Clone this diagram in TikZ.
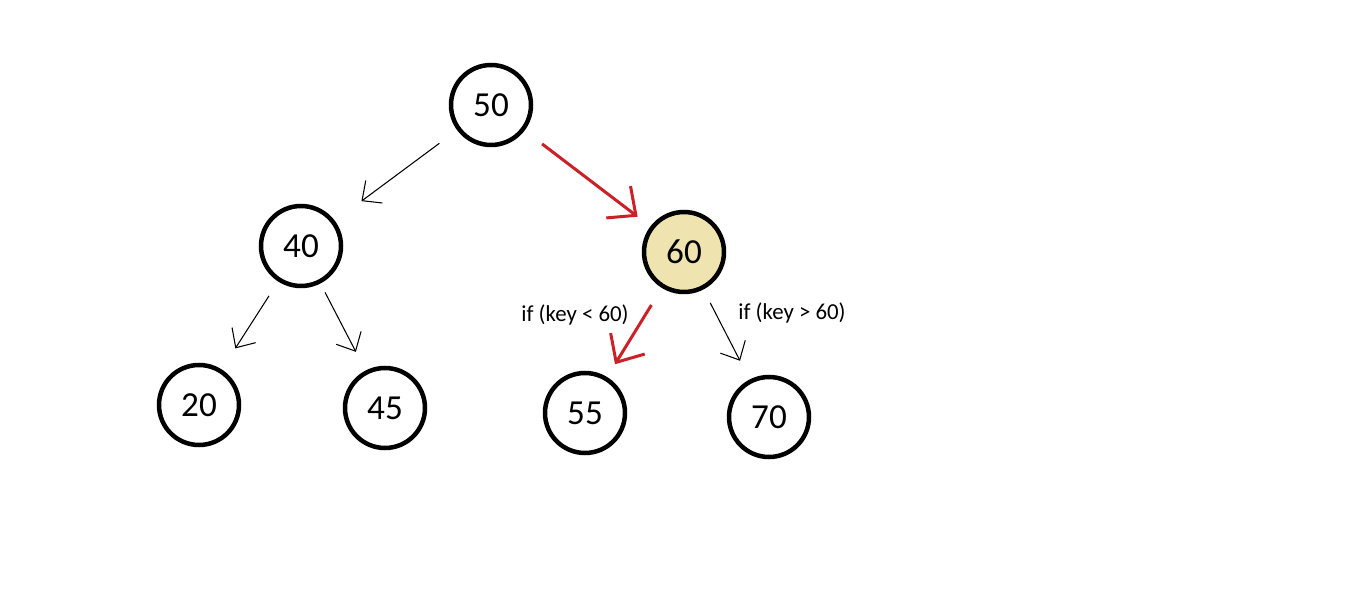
\documentclass[tikz,border=0pt]{standalone}
\usepackage{fontspec}
\setmainfont{Carlito}
\usetikzlibrary{arrows.meta}
\definecolor{pathred}{RGB}{204,32,40}
\definecolor{hitfill}{RGB}{239,228,176}
\begin{document}
\begin{tikzpicture}[
	key/.style={circle, draw, line width=0.045cm, minimum size=0.8cm, inner sep=0pt, font=\fontsize{10}{12}\selectfont},
	link/.style={draw=black, line width=0.3pt, -{Straight Barb[length=0.15cm, width=0.28cm, line width=0.3pt]}},
	found/.style={draw=pathred, line width=0.03cm, -{Straight Barb[length=0.22cm, width=0.4cm, line width=0.03cm]}},
	cond/.style={font=\fontsize{6.5}{8}\selectfont}]
	\useasboundingbox (0,0) rectangle (13.68,-5.98);
	\node (K50) at (4.91, -1.05)	[key]	{50};
	\node (K40) at (3.01, -2.46)	[key]	{40};
	\node (K60) at (6.84, -2.52)	[key, fill = hitfill]	{60};
	\node (K20) at (1.99, -4.05)	[key]	{20};
	\node (K45) at (3.85, -4.08)	[key]	{45};
	\node (K55) at (5.85, -4.13)	[key]	{55};
	\node (K70) at (7.69, -4.17)	[key]	{70};
	\node (lblless) at (5.75, -3.15)	[cond]	{if (key < 60)};
	\node (lblmore) at (7.92, -3.13)	[cond]	{if (key > 60)};
	\draw [link, shorten <=0.22cm, shorten >=0.33cm] (K50) -- (K40);
	\draw [found, shorten <=0.22cm, shorten >=0.16cm] (K50) -- (K60);
	\draw [link, shorten <=0.17cm, shorten >=0.25cm] (K40) -- (K20);
	\draw [link, shorten <=0.10cm, shorten >=0.21cm] (K40) -- (K45);
	\draw [found, shorten <=0.20cm, shorten >=0.15cm] (K60) -- (K55);
	\draw [link, shorten <=0.15cm, shorten >=0.21cm] (K60) -- (K70);
\end{tikzpicture}
\end{document}
